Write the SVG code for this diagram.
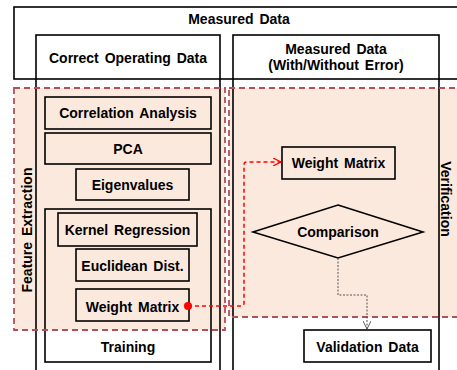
<svg xmlns="http://www.w3.org/2000/svg" width="457" height="370" viewBox="0 0 457 370">
<defs>
<style>
.bx{fill:none;stroke:#000;stroke-width:1.6}
.fb{fill:#fce9dd;stroke:#000;stroke-width:1.6}
.rg{fill:#fce9dd;stroke:none}
.rgb{fill:none;stroke:#b0505a;stroke-width:1.8;stroke-dasharray:6,4}
.t{font-family:"Liberation Sans",Arial,sans-serif;font-weight:bold;font-size:14px;fill:#000;text-anchor:middle;word-spacing:2px}
</style>
<marker id="ar" viewBox="0 0 10 10" refX="10" refY="5" markerWidth="8" markerHeight="8" orient="auto" markerUnits="userSpaceOnUse">
<path d="M0,0 L10,5 L0,10" fill="none" stroke="#ff0000" stroke-width="1.5"/>
</marker>
<marker id="ag" viewBox="0 0 10 10" refX="10" refY="5" markerWidth="8" markerHeight="8" orient="auto" markerUnits="userSpaceOnUse">
<path d="M0,0 L10,5 L0,10" fill="none" stroke="#555" stroke-width="1.2"/>
</marker>
</defs>
<rect width="457" height="370" fill="#fff"/>
<g id="regions">
<rect class="rg" x="14" y="88" width="211" height="242"/>
<rect class="rg" x="229" y="88" width="235" height="229"/>
</g>
<g id="measured-data">
<rect class="bx" x="14" y="7" width="452" height="72"/>
<text class="t" x="239" y="24">Measured Data</text>
</g>
<g id="correct-operating-data">
<rect class="bx" x="36" y="35" width="184" height="345"/>
<text class="t" x="128" y="63">Correct Operating Data</text>
</g>
<g id="measured-data-error">
<rect class="bx" x="233" y="35" width="206" height="345"/>
<text class="t" x="336" y="54">Measured Data</text>
<text class="t" x="336" y="70">(With/Without Error)</text>
</g>
<g id="correlation-analysis">
<rect class="fb" x="45" y="97" width="166" height="32"/>
<text class="t" x="128" y="118">Correlation Analysis</text>
</g>
<g id="pca">
<rect class="fb" x="45" y="133" width="166" height="31"/>
<text class="t" x="128" y="154">PCA</text>
</g>
<g id="eigenvalues">
<rect class="fb" x="76" y="169" width="113" height="31"/>
<text class="t" x="132.5" y="190">Eigenvalues</text>
</g>
<g id="training">
<rect class="bx" x="45" y="209" width="166" height="153"/>
<text class="t" x="128" y="352">Training</text>
</g>
<g id="kernel-regression">
<rect class="fb" x="58" y="213" width="139" height="33"/>
<text class="t" x="127.5" y="235">Kernel Regression</text>
</g>
<g id="euclidean-dist">
<rect class="fb" x="76" y="249" width="113" height="32"/>
<text class="t" x="132.5" y="271">Euclidean Dist.</text>
</g>
<g id="weight-matrix-train">
<rect class="fb" x="76" y="289" width="113" height="32"/>
<text class="t" x="132.5" y="312">Weight Matrix</text>
</g>
<g id="weight-matrix-verify">
<rect class="fb" x="282" y="147" width="113" height="32"/>
<text class="t" x="338.5" y="168">Weight Matrix</text>
</g>
<g id="comparison">
<polygon class="fb" points="338,205 423,232 338,258 253,232"/>
<text class="t" x="338" y="237">Comparison</text>
</g>
<g id="validation-data">
<rect class="bx" x="304" y="330" width="127" height="32" fill="#fff"/>
<text class="t" x="367.5" y="352">Validation Data</text>
</g>
<g id="feature-extraction">
<rect class="rgb" x="14" y="88" width="211" height="242"/>
<text class="t" transform="translate(32,230) rotate(-90)" x="0" y="0">Feature Extraction</text>
</g>
<g id="verification">
<rect class="rgb" x="229" y="88" width="235" height="229"/>
<text class="t" transform="translate(441,199) rotate(90)" x="0" y="0">Verification</text>
</g>
<g id="connectors">
<path d="M188,306 H241 Q244,306 244,303 V165 Q244,162 247,162 H281" fill="none" stroke="#ff0000" stroke-width="1.5" stroke-dasharray="4,3" marker-end="url(#ar)"/>
<circle cx="188" cy="306" r="4" fill="#ff0000"/>
<path d="M338,258 V295 H367 V329" fill="none" stroke="#555" stroke-width="1" stroke-dasharray="2,1.5" marker-end="url(#ag)"/>
</g>
</svg>
